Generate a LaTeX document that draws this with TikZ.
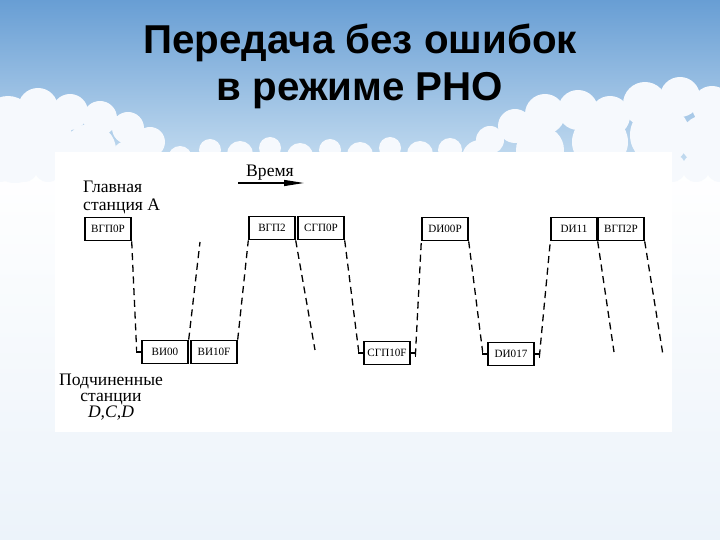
\documentclass[tikz,border=0pt]{standalone}
\usepackage{fontspec}
\setmainfont{Liberation Serif}
\newfontfamily\titlefont{Liberation Sans}
\usetikzlibrary{arrows.meta}
\definecolor{skytop}{RGB}{104,158,212}
\definecolor{skymid}{RGB}{196,220,240}
\definecolor{skylow}{RGB}{236,243,250}
\definecolor{cloudshade}{RGB}{246,249,253}
\tikzset{
	frame/.style={draw,line width=1.2pt,minimum width=1.38cm,minimum height=0.7cm,inner sep=1pt,font=\fontsize{9.5}{11}\selectfont},
	dline/.style={line width=1.1pt,dash pattern=on 6pt off 4pt},
	hook/.style={line width=0.9pt},
	label/.style={font=\fontsize{15}{15.5}\selectfont},
	cloud/.style={fill=cloudshade}
}
\begin{document}
\begin{tikzpicture}[x=0.03cm,y=-0.03cm]
		\useasboundingbox (0,0) rectangle (720,540);
		
		\fill[top color=skytop,bottom color=skymid] (0,0) rectangle (720,165); %sky
		\fill[top color=white,bottom color=skylow] (0,165) rectangle (720,540); %lower sky
		
		% clouds
		\foreach \cx/\cy/\r in {8/122/26,38/108/20,70/112/18,100/118/17,128/128/16,150/142/15,45/140/28,15/155/28,90/150/26,130/160/20,
			490/140/14,515/126/17,545/114/20,578/110/20,610/116/20,645/104/22,680/97/20,712/106/20,600/142/28,660/135/30,705/140/25,540/150/24,480/158/18,
			180/158/12,210/150/11,240/154/13,270/148/11,300/156/13,330/150/11,360/155/13,390/148/11,420/154/13,450/150/12}
			\fill[cloud] (\cx,\cy) circle (\r);
		\foreach \cx in {0,24,...,720}
			\fill[cloud] (\cx,168) circle (14);
		\fill[white] (55,152) rectangle (672,432); %scan
		
		\node[font=\titlefont\bfseries\fontsize{34.4}{40}\selectfont,align=center,anchor=north] (title) at (360,20) {Передача без ошибок\\в режиме РНО};
		
		\node[label,anchor=base] (time) at (270,177) {Время};
		\draw[line width=1pt,-{Triangle[length=0.6cm,width=0.18cm]}] (238,183) -- (304,183); %time axis
		
		\node[label,anchor=north west,align=left,inner sep=0pt] (master) at (83,181) {Главная\\станция А};
		\node[label,anchor=north,align=center,inner sep=0pt,font=\fontsize{15}{13.5}\selectfont] (slave) at (111,374) {Подчиненные\\станции\\\textit{D,C,D}};
		
		% frames of the main station
		\node[frame] (vgp0r) at (108,229) {ВГП0Р};
		\node[frame] (vgp2) at (272,228) {ВГП2};
		\node[frame] (sgp0r) at (321,228) {СГП0Р};
		\node[frame] (di00r) at (445,229) {DИ00Р};
		\node[frame] (di11) at (574,229) {DИ11};
		\node[frame] (vgp2r) at (621,229) {ВГП2Р};
		
		% frames of the slave stations
		\node[frame] (vi00) at (165,352) {ВИ00};
		\node[frame] (vi10f) at (214,352) {ВИ10F};
		\node[frame] (sgp10f) at (387,353) {СГП10F};
		\node[frame] (di017) at (511,354) {DИ017};
		
		\coordinate (e1) at (200,242); %free end
		\coordinate (e2) at (315,350); %free end
		\coordinate (e3) at (614,352); %free end
		\coordinate (e4) at (663,355); %free end
		
		\draw[dline] (vgp0r.south east) -- ([xshift=-4pt,yshift=2pt]vi00.west); %A to B
		\draw[hook] ([xshift=-4pt,yshift=3pt]vi00.west) -- ([xshift=-4pt]vi00.west) -- (vi00.west); %hook
		\draw[dline] (vi00.north east) -- (e1); %answer
		\draw[dline] (vi10f.north east) -- (vgp2.south west); %answer
		\draw[dline] (vgp2.south east) -- (e2); %lost end
		\draw[dline] (sgp0r.south east) -- ([xshift=-4pt,yshift=2pt]sgp10f.west); %A to C
		\draw[hook] ([xshift=-4pt,yshift=3pt]sgp10f.west) -- ([xshift=-4pt]sgp10f.west) -- (sgp10f.west); %hook
		\draw[hook] (sgp10f.east) -- ([xshift=4pt]sgp10f.east) -- ([xshift=4pt,yshift=-3pt]sgp10f.east); %hook
		\draw[dline] ([xshift=4pt,yshift=-2pt]sgp10f.east) -- (di00r.south west); %answer
		\draw[dline] (di00r.south east) -- ([xshift=-4pt,yshift=2pt]di017.west); %A to D
		\draw[hook] ([xshift=-4pt,yshift=3pt]di017.west) -- ([xshift=-4pt]di017.west) -- (di017.west); %hook
		\draw[hook] (di017.east) -- ([xshift=4pt]di017.east) -- ([xshift=4pt,yshift=-3pt]di017.east); %hook
		\draw[dline] ([xshift=4pt,yshift=-2pt]di017.east) -- (di11.south west); %answer
		\draw[dline] (di11.south east) -- (e3); %lost end
		\draw[dline] (vgp2r.south east) -- (e4); %lost end
		\end{tikzpicture}
\end{document}
